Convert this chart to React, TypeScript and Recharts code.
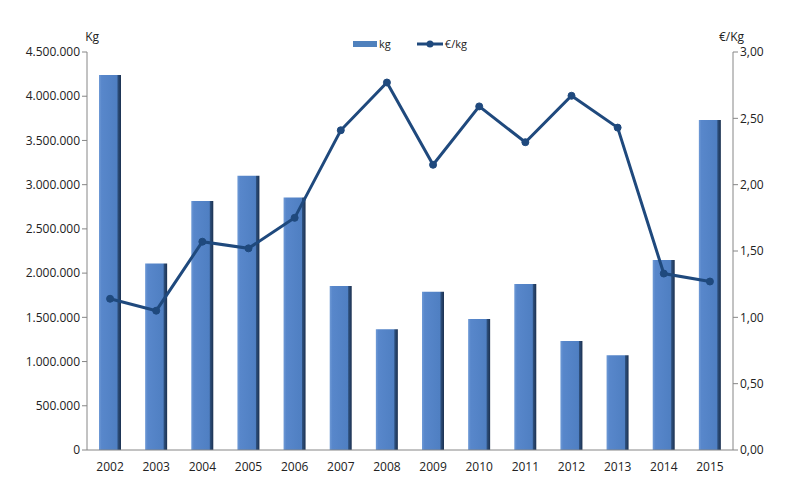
import { ComposedChart, Bar, Line, XAxis, YAxis, Label } from 'recharts';

const years = ['2002', '2003', '2004', '2005', '2006', '2007', '2008', '2009', '2010', '2011', '2012', '2013', '2014', '2015'];
const kg = [4240000, 2110000, 2815000, 3100000, 2855000, 1855000, 1365000, 1790000, 1480000, 1877000, 1232000, 1072000, 2148000, 3730000];
const pricePerKg = [1.14, 1.05, 1.57, 1.52, 1.75, 2.41, 2.77, 2.15, 2.59, 2.32, 2.67, 2.43, 1.33, 1.27];
const leftTicks = [0, 500000, 1000000, 1500000, 2000000, 2500000, 3000000, 3500000, 4000000, 4500000];
const rightTicks = [0, 0.5, 1, 1.5, 2, 2.5, 3];

const data = years.map((year, i) => ({ year, kg: kg[i], price: pricePerKg[i] }));

const font = 'Open Sans, Liberation Sans, sans-serif';
const tickStyle = { fontSize: 12, fill: '#222', fontFamily: font };

const fmtKg = (v: number) => v.toLocaleString('de-DE');
const fmtPrice = (v: number) => v.toFixed(2).replace('.', ',');

function ChartLegend() {
  return (
    <div style={{ position: 'absolute', top: 36, left: 0, width: 800, display: 'flex', justifyContent: 'center', alignItems: 'center', fontFamily: font, fontSize: 11, color: '#222', paddingLeft: 20, boxSizing: 'border-box' }}>
      <svg width={24} height={8} style={{ marginRight: 2 }}>
        <rect x={0} y={1} width={24} height={6} fill="#4f81bd" />
      </svg>
      <span style={{ marginRight: 26 }}>kg</span>
      <svg width={26} height={10} style={{ marginRight: 2 }}>
        <line x1={0} y1={5} x2={26} y2={5} stroke="#1f497d" strokeWidth={3} />
        <circle cx={13} cy={5} r={3.5} fill="#1f497d" />
      </svg>
      <span>€/kg</span>
    </div>
  );
}

export default function App() {
  return (
    <div style={{ position: 'absolute', left: 0, top: 0, width: 800, height: 494, background: '#fff' }}>
      <ComposedChart width={800} height={494} data={data} margin={{ top: 52, right: 0, bottom: 14, left: 0 }}>
        <defs>
          <linearGradient id="barFill" x1="0" y1="0" x2="1" y2="0">
            <stop offset="0%" stopColor="#6f9ad6" />
            <stop offset="12%" stopColor="#5887cb" />
            <stop offset="82%" stopColor="#4f7fc2" />
            <stop offset="86%" stopColor="#2d4f7c" />
            <stop offset="100%" stopColor="#1c3150" />
          </linearGradient>
        </defs>
        <XAxis
          dataKey="year"
          height={30}
          tickLine={false}
          axisLine={{ stroke: '#868686' }}
          tick={tickStyle}
          tickMargin={6}
          interval={0}
        />
        <YAxis
          yAxisId="left"
          width={87}
          domain={[0, 4500000]}
          ticks={leftTicks}
          tickFormatter={fmtKg}
          axisLine={{ stroke: '#868686' }}
          tickLine={{ stroke: '#868686' }}
          tickSize={5}
          tick={tickStyle}
          interval={0}
        >
          <Label value="Kg" position="insideTopRight" offset={0} dy={-20} dx={12} style={{ fontSize: 12, fill: '#222', fontFamily: font }} />
        </YAxis>
        <YAxis
          yAxisId="right"
          orientation="right"
          width={67}
          domain={[0, 3]}
          ticks={rightTicks}
          tickFormatter={fmtPrice}
          axisLine={{ stroke: '#868686' }}
          tickLine={{ stroke: '#868686' }}
          tickSize={5}
          tick={tickStyle}
          interval={0}
        >
          <Label value="€/Kg" position="insideTopLeft" offset={0} dy={-20} dx={-14} style={{ fontSize: 12, fill: '#222', fontFamily: font }} />
        </YAxis>
        <Bar yAxisId="left" dataKey="kg" name="kg" barSize={22} fill="url(#barFill)" isAnimationActive={false} />
        <Line
          yAxisId="right"
          dataKey="price"
          name="€/kg"
          type="linear"
          stroke="#1f497d"
          strokeWidth={3}
          dot={{ r: 3.5, fill: '#1f497d', stroke: '#1f497d', strokeWidth: 1 }}
          activeDot={false}
          isAnimationActive={false}
        />
      </ComposedChart>
      <ChartLegend />
    </div>
  );
}
